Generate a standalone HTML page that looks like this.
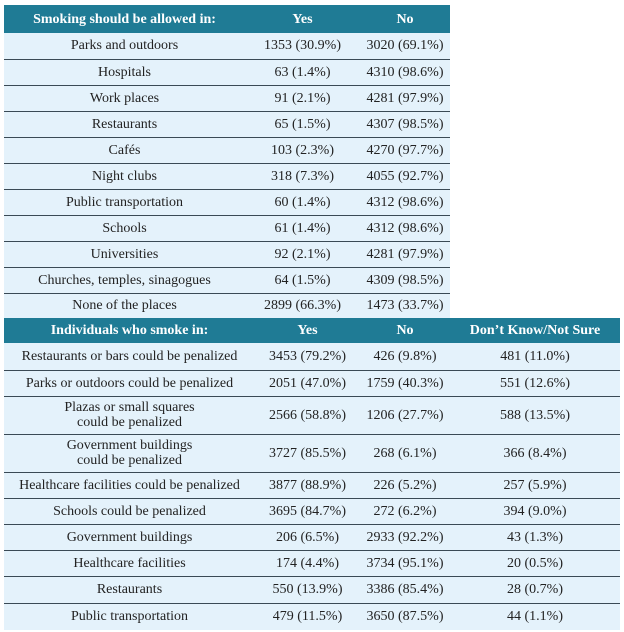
<!DOCTYPE html>
<html><head><style>
body{margin:0;background:#fff;width:624px;height:632px;overflow:hidden;font-family:"Liberation Serif",serif;font-size:14px;color:#222}
table{position:absolute;border-collapse:collapse;table-layout:fixed}
td,th{text-align:center;padding:0;line-height:15px;white-space:nowrap}
th{background:#1f7b95;color:#fff;font-weight:bold}
td{background:#e4f2fb;border-top:1px solid #3a4a55}
tr:nth-child(2) td{border-top:none}
</style></head><body>
<table style="left:4px;top:5px;width:446px">
<colgroup><col style="width:241px"><col style="width:115px"><col style="width:90px"></colgroup>
<tr style="height:28px"><th>Smoking should be allowed in:</th><th>Yes</th><th>No</th></tr>
<tr style="height:26px"><td>Parks and outdoors</td><td>1353 (30.9%)</td><td>3020 (69.1%)</td></tr>
<tr style="height:26px"><td>Hospitals</td><td>63 (1.4%)</td><td>4310 (98.6%)</td></tr>
<tr style="height:26px"><td>Work places</td><td>91 (2.1%)</td><td>4281 (97.9%)</td></tr>
<tr style="height:26px"><td>Restaurants</td><td>65 (1.5%)</td><td>4307 (98.5%)</td></tr>
<tr style="height:26px"><td>Cafés</td><td>103 (2.3%)</td><td>4270 (97.7%)</td></tr>
<tr style="height:26px"><td>Night clubs</td><td>318 (7.3%)</td><td>4055 (92.7%)</td></tr>
<tr style="height:26px"><td>Public transportation</td><td>60 (1.4%)</td><td>4312 (98.6%)</td></tr>
<tr style="height:26px"><td>Schools</td><td>61 (1.4%)</td><td>4312 (98.6%)</td></tr>
<tr style="height:26px"><td>Universities</td><td>92 (2.1%)</td><td>4281 (97.9%)</td></tr>
<tr style="height:26px"><td>Churches, temples, sinagogues</td><td>64 (1.5%)</td><td>4309 (98.5%)</td></tr>
<tr style="height:25px"><td>None of the places</td><td>2899 (66.3%)</td><td>1473 (33.7%)</td></tr>
</table>
<table style="left:4px;top:318px;width:616px">
<colgroup><col style="width:251px"><col style="width:105px"><col style="width:90px"><col style="width:170px"></colgroup>
<tr style="height:25px"><th>Individuals who smoke in:</th><th>Yes</th><th>No</th><th>Don’t Know/Not Sure</th></tr>
<tr style="height:27px"><td>Restaurants or bars could be penalized</td><td>3453 (79.2%)</td><td>426 (9.8%)</td><td>481 (11.0%)</td></tr>
<tr style="height:26px"><td>Parks or outdoors could be penalized</td><td>2051 (47.0%)</td><td>1759 (40.3%)</td><td>551 (12.6%)</td></tr>
<tr style="height:38px"><td>Plazas or small squares<br>could be penalized</td><td>2566 (58.8%)</td><td>1206 (27.7%)</td><td>588 (13.5%)</td></tr>
<tr style="height:38px"><td>Government buildings<br>could be penalized</td><td>3727 (85.5%)</td><td>268 (6.1%)</td><td>366 (8.4%)</td></tr>
<tr style="height:26px"><td>Healthcare facilities could be penalized</td><td>3877 (88.9%)</td><td>226 (5.2%)</td><td>257 (5.9%)</td></tr>
<tr style="height:26px"><td>Schools could be penalized</td><td>3695 (84.7%)</td><td>272 (6.2%)</td><td>394 (9.0%)</td></tr>
<tr style="height:26px"><td>Government buildings</td><td>206 (6.5%)</td><td>2933 (92.2%)</td><td>43 (1.3%)</td></tr>
<tr style="height:26px"><td>Healthcare facilities</td><td>174 (4.4%)</td><td>3734 (95.1%)</td><td>20 (0.5%)</td></tr>
<tr style="height:27px"><td>Restaurants</td><td>550 (13.9%)</td><td>3386 (85.4%)</td><td>28 (0.7%)</td></tr>
<tr style="height:27px"><td>Public transportation</td><td>479 (11.5%)</td><td>3650 (87.5%)</td><td>44 (1.1%)</td></tr>
</table>
</body></html>
